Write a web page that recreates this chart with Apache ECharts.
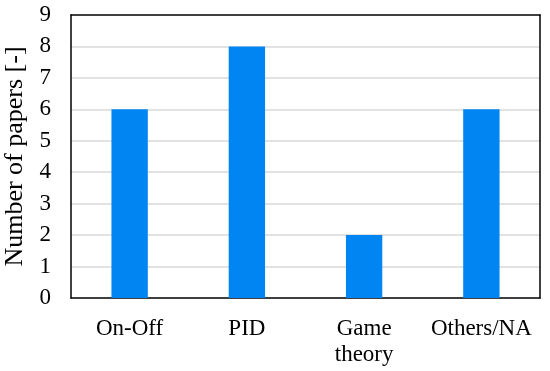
<!DOCTYPE html>
<html><head><meta charset="utf-8">
<script src="https://cdn.jsdelivr.net/npm/echarts@6/dist/echarts.min.js"></script>
<style>html,body{margin:0;padding:0;background:#fff}#c{width:550px;height:371px}</style>
</head><body><div id="c"></div>
<script>
const categories = ['On-Off', 'PID', 'Game\ntheory', 'Others/NA'];
const papers = [6, 8, 2, 6];
const yTicks = [0, 1, 2, 3, 4, 5, 6, 7, 8, 9];
const font = '"Liberation Serif", "Times New Roman", serif';
const chart = echarts.init(document.getElementById('c'), null, {renderer: 'canvas'});
const blackLine = {show: true, onZero: false, lineStyle: {color: '#000', width: 1.5}};
chart.setOption({
  animation: false,
  grid: {left: 71, right: 10, top: 15, bottom: 73, containLabel: false, outerBoundsMode: 'none'},
  xAxis: [{
    type: 'category', data: categories,
    axisLine: blackLine,
    axisTick: {show: false},
    axisLabel: {color: '#000', fontFamily: font, fontSize: 23, margin: 18, lineHeight: 26, interval: 0}
  }, {
    type: 'category', data: categories, position: 'top',
    axisLine: blackLine, axisTick: {show: false}, axisLabel: {show: false}, splitLine: {show: false}, z: 5
  }],
  yAxis: [{
    type: 'value', min: yTicks[0], max: yTicks[yTicks.length - 1], interval: 1,
    name: 'Number of papers [-]', nameLocation: 'middle', nameGap: 37,
    nameTextStyle: {color: '#000', fontFamily: font, fontSize: 26},
    axisLine: blackLine,
    axisTick: {show: false},
    axisLabel: {color: '#000', fontFamily: font, fontSize: 23, margin: 20},
    splitLine: {showMaxLine: false, showMinLine: false, lineStyle: {color: '#d9d9d9', width: 1.5}}
  }, {
    type: 'value', min: yTicks[0], max: yTicks[yTicks.length - 1], interval: 1, position: 'right',
    axisLine: blackLine, axisTick: {show: false}, axisLabel: {show: false}, splitLine: {show: false}, z: 5
  }],
  series: [{type: 'bar', data: papers, barWidth: '31%', itemStyle: {color: '#0085F2'}}]
});
</script></body></html>
